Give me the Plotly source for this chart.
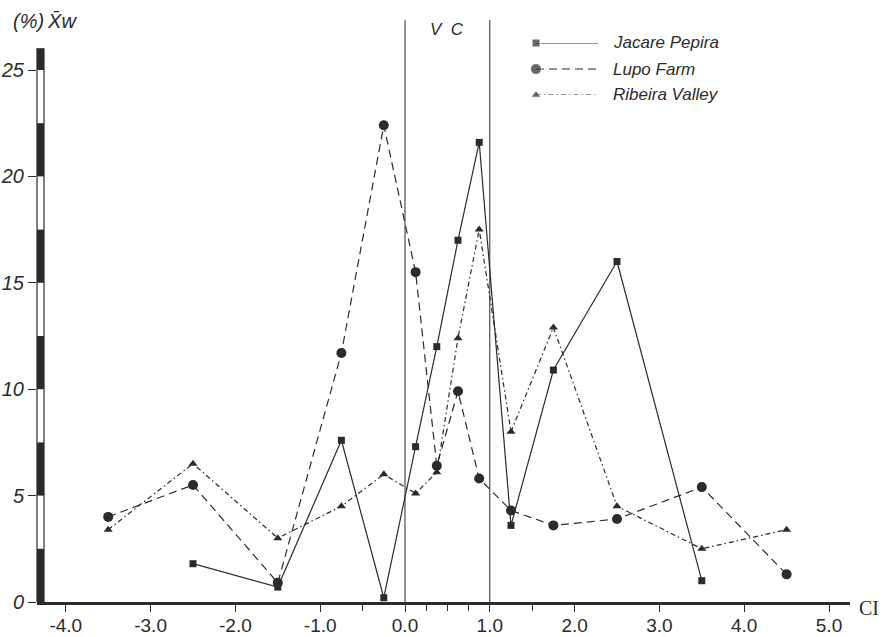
import plotly.graph_objects as go

# ---- data ----
ci_jp = [-2.5, -1.5, -0.75, -0.25, 0.125, 0.375, 0.625, 0.875, 1.25, 1.75, 2.5, 3.5]
xw_jp = [1.8, 0.7, 7.6, 0.2, 7.3, 12.0, 17.0, 21.6, 3.6, 10.9, 16.0, 1.0]

ci_lf = [-3.5, -2.5, -1.5, -0.75, -0.25, 0.125, 0.375, 0.625, 0.875, 1.25, 1.75, 2.5, 3.5, 4.5]
xw_lf = [4.0, 5.5, 0.9, 11.7, 22.4, 15.5, 6.4, 9.9, 5.8, 4.3, 3.6, 3.9, 5.4, 1.3]

ci_rv = [-3.5, -2.5, -1.5, -0.75, -0.25, 0.125, 0.375, 0.625, 0.875, 1.25, 1.75, 2.5, 3.5, 4.5]
xw_rv = [3.4, 6.5, 3.0, 4.5, 6.0, 5.1, 6.1, 12.4, 17.5, 8.0, 12.9, 4.5, 2.5, 3.4]

series_names = ["Jacare Pepira", "Lupo Farm", "Ribeira Valley"]

x_tickvals = [-4, -3, -2, -1, 0, 1, 2, 3, 4, 5]
x_ticktext = ["-4.0", "-3.0", "-2.0", "-1.0", "0.0", "1.0", "2.0", "3.0", "4.0", "5.0"]
x_minor_ticks = [-0.5, 0.25, 0.5, 0.75, 1.5]
y_tickvals = [0, 5, 10, 15, 20, 25]
y_ticktext = ["0", "5", "10", "15", "20", "25"]
vc_bounds = [0, 1]

INK = "#2b2b2b"
FONT = "Liberation Sans"

W, H = 883, 637
ML, MR, MT, MB = 37, 33, 20, 35
PW, PH = W - ML - MR, H - MT - MB


def px(xp):  # pixel x -> paper x
    return (xp - ML) / PW


def py(yp):  # pixel y -> paper y
    return (H - MB - yp) / PH


styles = [
    dict(symbol="square", size=7, dash="solid"),
    dict(symbol="circle", size=10, dash="8px,5px"),
    dict(symbol="triangle-up", size=8, dash="5px,3px,1.5px,3px"),
]
data = [(ci_jp, xw_jp), (ci_lf, xw_lf), (ci_rv, xw_rv)]

fig = go.Figure()
for (xs, ys), st, nm in zip(data, styles, series_names):
    fig.add_trace(go.Scatter(
        x=xs, y=ys, mode="lines+markers", name=nm, showlegend=False,
        line=dict(color=INK, width=1.2, dash=st["dash"]),
        marker=dict(symbol=st["symbol"], size=st["size"], color=INK),
    ))

# custom legend (marker at the left end of the line sample) on an auxiliary axis pair
leg_rows = [2, 1, 0]
leg_px_rows = [43, 69, 95]
for st, nm, r, ry in zip(styles, series_names, leg_rows, leg_px_rows):
    fig.add_trace(go.Scatter(
        x=[0, 1], y=[r, r], mode="lines+markers", xaxis="x2", yaxis="y2",
        showlegend=False, hoverinfo="skip", cliponaxis=False,
        line=dict(color=INK, width=1.2, dash=st["dash"]),
        marker=dict(symbol=st["symbol"], size=[st["size"] + 1, 0], color=INK),
    ))
    fig.add_annotation(x=px(611), y=py(ry), xref="paper", yref="paper", text=nm,
                       showarrow=False, xanchor="left", yanchor="middle",
                       font=dict(family=FONT, size=17, color=INK, style="italic"))

X0, X1 = -(405 - ML) / 84.8, (850 - 405) / 84.8
Y0, Y1 = 0, 27.35

# V C boundaries
for b in vc_bounds:
    fig.add_shape(type="line", x0=b, x1=b, y0=0, y1=1, xref="x", yref="paper",
                  line=dict(color=INK, width=1))
fig.add_annotation(x=0.5, y=26.9, text="V  C", showarrow=False,
                   font=dict(family=FONT, size=17, color=INK, style="italic"))

# y axis as alternating black/white scale bar
bar_w = 7 / PW
fig.add_shape(type="rect", x0=0, x1=bar_w, y0=0, y1=26, xref="paper", yref="y",
              line=dict(color=INK, width=1.2), fillcolor="white")
seg = [(0, 2.5), (5, 7.5), (10, 12.5), (15, 17.5), (20, 22.5), (25, 26)]
for a, b in seg:
    fig.add_shape(type="rect", x0=0, x1=bar_w, y0=a, y1=b, xref="paper", yref="y",
                  line=dict(width=0), fillcolor=INK)

fig.add_annotation(x=px(11), y=py(21), xref="paper", yref="paper", xanchor="left",
                   yanchor="middle", text="(%)\u2009X\u0304w", showarrow=False,
                   font=dict(family=FONT, size=20, color=INK, style="italic"))
fig.add_annotation(x=px(857), y=py(608), xref="paper", yref="paper", xanchor="left",
                   yanchor="middle", text="CI", showarrow=False,
                   font=dict(family="Liberation Serif", size=20, color=INK))

fig.update_layout(
    width=W, height=H,
    margin=dict(l=ML, r=MR, t=MT, b=MB, autoexpand=False),
    paper_bgcolor="white", plot_bgcolor="white",
    xaxis=dict(range=[X0, X1], showgrid=False, zeroline=False, showline=True, automargin=False,
               linecolor=INK, linewidth=2.5, ticks="outside", ticklen=7, tickcolor=INK,
               tickwidth=1.2, tickvals=x_tickvals, ticktext=x_ticktext, ticklabelstandoff=-3,
               tickfont=dict(family=FONT, size=19, color=INK),
               minor=dict(tickmode="array", tickvals=x_minor_ticks, ticks="outside",
                          ticklen=6, tickcolor=INK, tickwidth=1, showgrid=False)),
    yaxis=dict(range=[Y0, Y1], showgrid=False, zeroline=False, showline=False, automargin=False,
               ticks="outside", ticklen=8, tickcolor=INK, tickwidth=1.2,
               tickvals=y_tickvals, ticktext=y_ticktext,
               tickfont=dict(family=FONT, size=20, color=INK, style="italic")),
    xaxis2=dict(domain=[px(536), px(598)], range=[0, 1], visible=False, anchor="y2",
                automargin=False),
    yaxis2=dict(domain=[py(95), py(43)], range=[0, 2], visible=False, anchor="x2",
                automargin=False),
    showlegend=False,
)

fig.write_html("out.html", config={"displayModeBar": False},
               post_script="document.body.style.margin='0px';document.body.style.overflow='hidden';")
